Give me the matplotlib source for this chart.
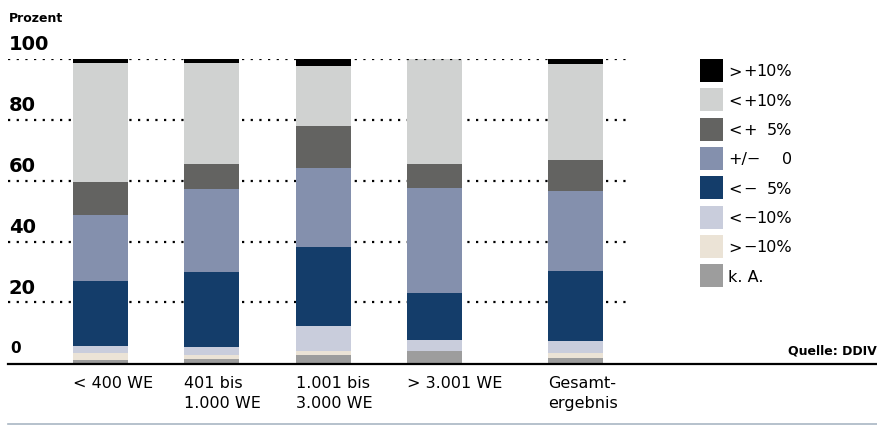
import matplotlib
matplotlib.use("Agg")
import matplotlib.pyplot as plt
from matplotlib.lines import Line2D
from matplotlib.patches import Rectangle
import matplotlib.transforms as mtransforms
import numpy as np

# Daten (Prozent), Reihenfolge von unten nach oben
categories = ["< 400 WE", "401 bis\n1.000 WE", "1.001 bis\n3.000 WE", "> 3.001 WE", "Gesamt-\nergebnis"]
ka = [1.1, 1.3, 2.7, 4.0, 1.7]
gt_minus10 = [2.3, 1.3, 1.3, 0.0, 1.6]
lt_minus10 = [2.3, 2.6, 8.2, 3.6, 3.9]
lt_minus5 = [21.4, 24.7, 26.0, 15.4, 23.0]
plusminus0 = [21.7, 27.4, 26.0, 34.5, 26.3]
lt_plus5 = [10.8, 8.3, 13.8, 7.9, 10.2]
lt_plus10 = [39.1, 33.1, 19.6, 34.6, 31.7]
gt_plus10 = [1.3, 1.3, 2.3, 0.0, 1.6]

series = [ka, gt_minus10, lt_minus10, lt_minus5, plusminus0, lt_plus5, lt_plus10, gt_plus10]
colors = ["#9d9d9d", "#ebe3d6", "#c9cddc", "#143d6a", "#8490ad", "#636361", "#d0d2d1", "#000000"]

# Legende: Zeichen / Vorzeichen / Wert (von oben nach unten)
leg_sign = [">", "<", "<", "+/−", "<", "<", ">", "k. A."]
leg_pm = ["+", "+", "+", "", "−", "−", "−", ""]
leg_val = ["10%", "10%", "5%", "0", "5%", "10%", "10%", ""]
leg_colors = colors[::-1]

yticks = [0, 20, 40, 60, 80, 100]

W, H = 878, 425
fig = plt.figure(figsize=(W / 100, H / 100), dpi=100)

# Achse: 0% bei y=363.3 px, 100% bei y=59 px
ax = fig.add_axes([8 / W, (H - 363.3) / H, 624 / W, (363.3 - 59) / H])
ax.set_xlim(-0.831, 4.775)
ax.set_ylim(0, 100)
ax.axis("off")

pos = np.array([0, 1, 2, 3, 4.27])
bw = 0.494

bottom = np.zeros(len(categories))
for vals, c in zip(series, colors):
    ax.bar(pos, vals, bw, bottom=bottom, color=c, linewidth=0, zorder=2)
    bottom += np.array(vals)

# gepunktete Linien
for v in yticks[1:]:
    ax.axhline(v, color="black", lw=1.6, linestyle=(0, (1, 2.9)), zorder=1 if v < 100 else 3)

# y-Beschriftung
ytr = mtransforms.blended_transform_factory(fig.transFigure, ax.transData)
for v in yticks:
    if v == 0:
        ax.text(10 / W, v + 3.5, "0", transform=ytr, fontsize=11, fontweight="bold",
                ha="left", va="baseline")
    else:
        ax.text(9 / W, v + 2.8, str(v), transform=ytr, fontsize=14, fontweight="bold",
                ha="left", va="baseline")

fig.text(9 / W, (H - 22.3) / H, "Prozent", fontsize=9, fontweight="bold", ha="left", va="baseline")

# Kategorien
xtr = mtransforms.blended_transform_factory(ax.transData, fig.transFigure)
for p, lab in zip(pos, categories):
    ax.text(p - bw / 2, (H - 376.5) / H, lab, transform=xtr, fontsize=11.5,
            ha="left", va="top", linespacing=1.37)

# Grundlinie und untere Linie
fig.add_artist(Line2D([8 / W, 1.0], [(H - 364.3) / H] * 2, color="black", lw=1.6,
                      transform=fig.transFigure))
fig.add_artist(Line2D([8 / W, 1.0], [(H - 423.5) / H] * 2, color="#a9b6c3", lw=1.2,
                      transform=fig.transFigure))

fig.text(876.5 / W, (H - 355) / H, "Quelle: DDIV", fontsize=9, fontweight="bold",
         family=["DejaVu Sans Condensed", "DejaVu Sans"], ha="right", va="baseline")

# Legende
for i in range(len(leg_sign)):
    yc = 70.5 + i * 29.3
    fig.add_artist(Rectangle((700 / W, (H - yc - 11.5) / H), 23 / W, 23 / H,
                             color=leg_colors[i], transform=fig.transFigure, lw=0))
    yt = (H - yc - 6.0) / H
    fig.text(728 / W, yt, leg_sign[i], fontsize=11.5, ha="left", va="baseline")
    if leg_pm[i]:
        fig.text(743 / W, yt, leg_pm[i], fontsize=11.5, ha="left", va="baseline")
    if leg_val[i]:
        fig.text(792 / W, yt, leg_val[i], fontsize=11.5, ha="right", va="baseline")

fig.savefig("out.png", dpi=100)
